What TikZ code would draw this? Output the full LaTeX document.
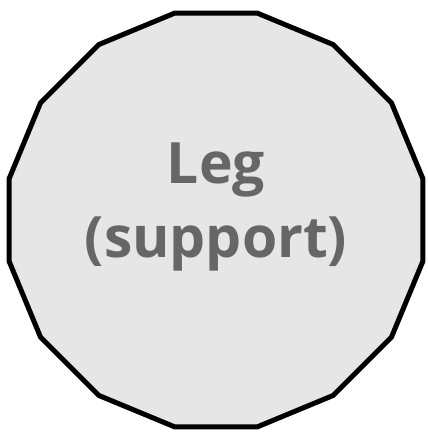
\documentclass[tikz,border=0pt]{standalone}
\usepackage{fontspec}
\setmainfont{Open Sans}
\usepackage{xcolor}
\usetikzlibrary{shapes.geometric}
\definecolor{legfill}{HTML}{E6E6E6}
\definecolor{legtext}{HTML}{666666}

\begin{document}
\begin{tikzpicture}[x=1pt, y=1pt]
  \useasboundingbox (-216,-212) rectangle (212,220);
  \node[regular polygon, regular polygon sides=16, minimum size=422pt, inner sep=0pt,
        draw=black, line width=5pt, fill=legfill] (leg) at (0,0) {};
  \node[align=center, text=legtext, font=\fontsize{57}{74}\selectfont\bfseries]
        (legtxt) at ([yshift=13.5pt]leg.center) {Leg\\(support)};
\end{tikzpicture}
\end{document}
